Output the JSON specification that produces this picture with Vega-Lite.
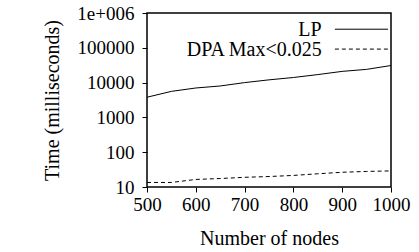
{
  "$schema": "https://vega.github.io/schema/vega-lite/v6.json",
  "width": 244,
  "height": 174,
  "autosize": "none",
  "padding": {"left": 147, "top": 13, "right": 28, "bottom": 65},
  "background": "white",
  "config": {
    "view": {"stroke": "black", "strokeWidth": 1.5},
    "axis": {"domain": false, "grid": false, "labelFont": "serif", "titleFont": "serif", "labelColor": "black", "titleColor": "black", "labelFontSize": 19, "titleFontSize": 20, "titleFontWeight": "normal", "tickColor": "black", "tickWidth": 1}
  },
  "datasets": {
    "lines": [
      {"n": 500, "t": 3800, "series": "LP"},
      {"n": 550, "t": 5600, "series": "LP"},
      {"n": 600, "t": 7000, "series": "LP"},
      {"n": 650, "t": 8000, "series": "LP"},
      {"n": 700, "t": 10000, "series": "LP"},
      {"n": 750, "t": 12000, "series": "LP"},
      {"n": 800, "t": 14000, "series": "LP"},
      {"n": 850, "t": 17000, "series": "LP"},
      {"n": 900, "t": 21000, "series": "LP"},
      {"n": 950, "t": 24000, "series": "LP"},
      {"n": 1000, "t": 31000, "series": "LP"},
      {"n": 500, "t": 13.5, "series": "DPA Max<0.025"},
      {"n": 550, "t": 13.5, "series": "DPA Max<0.025"},
      {"n": 600, "t": 16.5, "series": "DPA Max<0.025"},
      {"n": 650, "t": 17.5, "series": "DPA Max<0.025"},
      {"n": 700, "t": 19, "series": "DPA Max<0.025"},
      {"n": 750, "t": 20, "series": "DPA Max<0.025"},
      {"n": 800, "t": 21.5, "series": "DPA Max<0.025"},
      {"n": 850, "t": 24, "series": "DPA Max<0.025"},
      {"n": 900, "t": 26.5, "series": "DPA Max<0.025"},
      {"n": 950, "t": 28, "series": "DPA Max<0.025"},
      {"n": 1000, "t": 29, "series": "DPA Max<0.025"}
    ],
    "legend": [
      {"label": "LP", "tx": 858, "ty": 326000, "sx": 885, "sx2": 994, "sy": 342000},
      {"label": "DPA Max<0.025", "tx": 858, "ty": 87700, "sx": 885, "sx2": 994, "sy": 91800}
    ]
  },
  "layer": [
    {
      "data": {"name": "lines"},
      "transform": [{"filter": "datum.series === 'LP'"}],
      "mark": {"type": "line", "strokeWidth": 1, "color": "black"},
      "encoding": {
        "x": {"field": "n", "type": "quantitative", "scale": {"domain": [500, 1000], "nice": false, "zero": false},
              "axis": {"orient": "bottom", "values": [500, 600, 700, 800, 900, 1000], "format": "d", "tickSize": 5, "labelPadding": 3, "title": "Number of nodes", "titlePadding": 14, "labelFlush": false}},
        "y": {"field": "t", "type": "quantitative", "scale": {"type": "log", "domain": [10, 1000000], "nice": false},
              "axis": {"orient": "left", "values": [10, 100, 1000, 10000, 100000, 1000000], "tickSize": 5, "labelPadding": 8, "labelExpr": "datum.value >= 1000000 ? '1e+006' : format(datum.value, 'd')", "title": "Time (milliseconds)", "titlePadding": 14, "labelFlush": false}}
      }
    },
    {
      "data": {"name": "lines"},
      "transform": [{"filter": "datum.series !== 'LP'"}],
      "mark": {"type": "line", "strokeWidth": 1, "color": "black", "strokeDash": [4, 3]},
      "encoding": {
        "x": {"field": "n", "type": "quantitative"},
        "y": {"field": "t", "type": "quantitative"}
      }
    },
    {
      "data": {"name": "legend"},
      "mark": {"type": "text", "align": "right", "baseline": "middle", "fontSize": 20, "font": "serif", "color": "black"},
      "encoding": {
        "x": {"field": "tx", "type": "quantitative"},
        "y": {"field": "ty", "type": "quantitative"},
        "text": {"field": "label"}
      }
    },
    {
      "data": {"name": "legend"},
      "transform": [{"filter": "datum.label === 'LP'"}],
      "mark": {"type": "rule", "strokeWidth": 1, "color": "black"},
      "encoding": {
        "x": {"field": "sx", "type": "quantitative"},
        "x2": {"field": "sx2"},
        "y": {"field": "sy", "type": "quantitative"}
      }
    },
    {
      "data": {"name": "legend"},
      "transform": [{"filter": "datum.label !== 'LP'"}],
      "mark": {"type": "rule", "strokeWidth": 1, "color": "black", "strokeDash": [4, 3]},
      "encoding": {
        "x": {"field": "sx", "type": "quantitative"},
        "x2": {"field": "sx2"},
        "y": {"field": "sy", "type": "quantitative"}
      }
    }
  ]
}
